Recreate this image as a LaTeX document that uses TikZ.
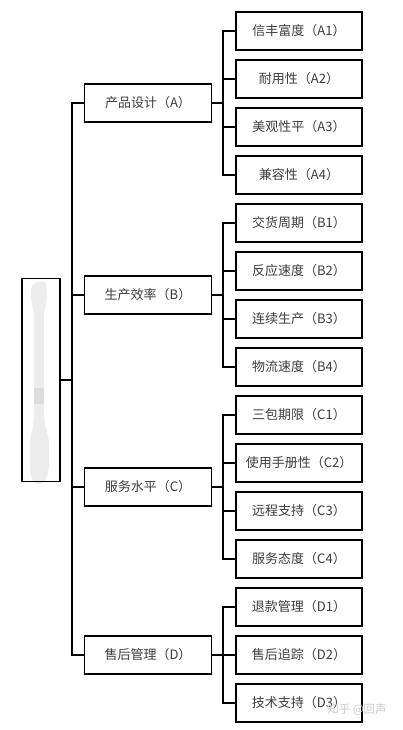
\documentclass[tikz,border=0pt]{standalone}
\usepackage{fontspec}
\newfontfamily\cjk{Noto Sans CJK SC}
\usetikzlibrary{positioning}
\definecolor{txtgray}{HTML}{3C3C3C}
\tikzset{
  box/.style={draw,line width=1.8pt,inner sep=0pt,
    font=\cjk\fontsize{13}{15}\selectfont,text=txtgray},
  leafbox/.style={box,minimum width=126pt,minimum height=38pt},
  midbox/.style={box,minimum width=127pt,minimum height=38pt},
  link/.style={line width=1.8pt}
}
\begin{document}
\begin{tikzpicture}[x=1pt,y=-1pt]
\useasboundingbox (0,0) rectangle (403,730);

% root box, text blurred out
\fill[gray!14,rounded corners=5pt] (31,284) -- (46,280) -- (47,300) -- (44,312)
  -- (44,420) -- (49,440) -- (49,470) -- (44,484) -- (33,484) -- (30,470)
  -- (30,440) -- (34,420) -- (34,312) -- (31,300) -- cycle;
\fill[gray!26] (34,388) rectangle (44,404);
\node[box,minimum width=38pt,minimum height=203pt] (root) at (41,380) {};
\coordinate (trunk) at (72,380);
\draw[link] (root.east) -- (trunk);

\foreach \g/\y/\name in {A/103/产品设计（A）,B/295/生产效率（B）,
                         C/487/服务水平（C）,D/655/售后管理（D）} {
    \node[midbox] (m\g) at (148,\y) {\name};
    \draw[link] (m\g.west) -| (trunk);
    \coordinate (bus\g) at (223,\y);
    \draw[link] (m\g.east) -- (bus\g);
}

\foreach \g/\i/\k/\name in {A/1/0/信丰富度（A1）,A/2/1/耐用性（A2）,
    A/3/2/美观性平（A3）,A/4/3/兼容性（A4）,
    B/1/4/交货周期（B1）,B/2/5/反应速度（B2）,
    B/3/6/连续生产（B3）,B/4/7/物流速度（B4）,
    C/1/8/三包期限（C1）,C/2/9/使用手册性（C2）,
    C/3/10/远程支持（C3）,C/4/11/服务态度（C4）,
    D/1/12/退款管理（D1）,D/2/13/售后追踪（D2）,D/3/14/技术支持（D3）} {
    \node[leafbox] (l\g\i) at (299,{31+48*\k}) {\name};
    \draw[link] (l\g\i.west) -| (bus\g);
}

% watermark
\node[text=gray!40,font=\cjk\fontsize{11.5}{12}\selectfont] (wm) at (357,710) {知乎 @回声};
\end{tikzpicture}
\end{document}
